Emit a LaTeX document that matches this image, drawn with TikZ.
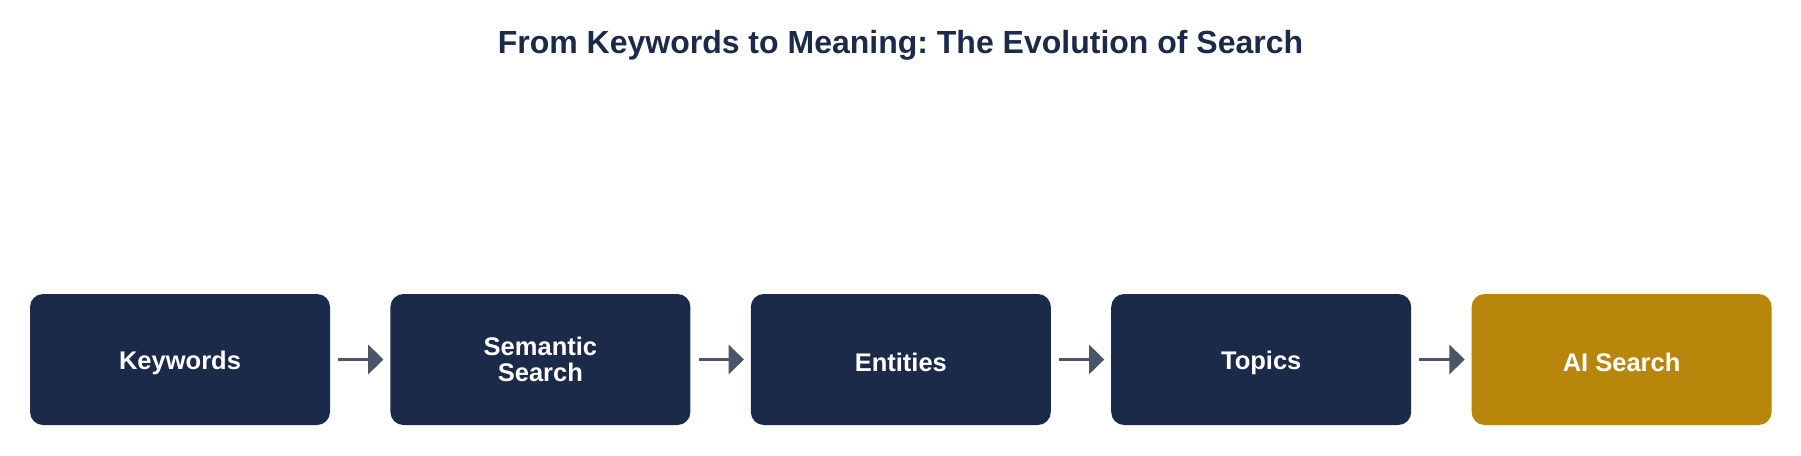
\documentclass[tikz,border=0pt]{standalone}
\usepackage{fontspec}
\setmainfont{Liberation Sans}
\usetikzlibrary{arrows.meta}
\usetikzlibrary{positioning}

\definecolor{navy}{HTML}{1C2A4A}
\definecolor{gold}{HTML}{B8860B}
\definecolor{arrowgray}{HTML}{4A5568}

\frenchspacing

\begin{document}
\begin{tikzpicture}[x=1pt,y=-1pt,
	stage/.style={rectangle, rounded corners=13pt, fill=navy, text=white,
		minimum width=300pt, minimum height=131pt, inner sep=0pt, align=center,
		font=\fontsize{25.5}{25.8}\selectfont\bfseries,
		execute at begin node={\rule{0pt}{24.5pt}}},
	flow/.style={draw=arrowgray, line width=3.5pt, -{Triangle[length=15.3pt,width=29pt]}}]

		\useasboundingbox (0,0) rectangle (1801,455);

		\node [anchor=base, text=navy, font=\fontsize{32}{38}\selectfont\bfseries] (title) at (900.5,53.3) {From Keywords to Meaning: The Evolution of Search};

		\node [stage] (kw) at (180,359.5) {Keywords};
		\node [stage, right=60pt of kw] (sem) {Semantic\\Search};
		\node [stage, right=60pt of sem] (ent) {Entities};
		\node [stage, right=60pt of ent] (top) {Topics};
		\node [stage, fill=gold, right=60pt of top] (ai) {AI Search};

		\draw [flow] ([xshift=8pt]kw.east) -- ([xshift=-6.7pt]sem.west);
		\draw [flow] ([xshift=8pt]sem.east) -- ([xshift=-6.7pt]ent.west);
		\draw [flow] ([xshift=8pt]ent.east) -- ([xshift=-6.7pt]top.west);
		\draw [flow] ([xshift=8pt]top.east) -- ([xshift=-6.7pt]ai.west);

\end{tikzpicture}
\end{document}
